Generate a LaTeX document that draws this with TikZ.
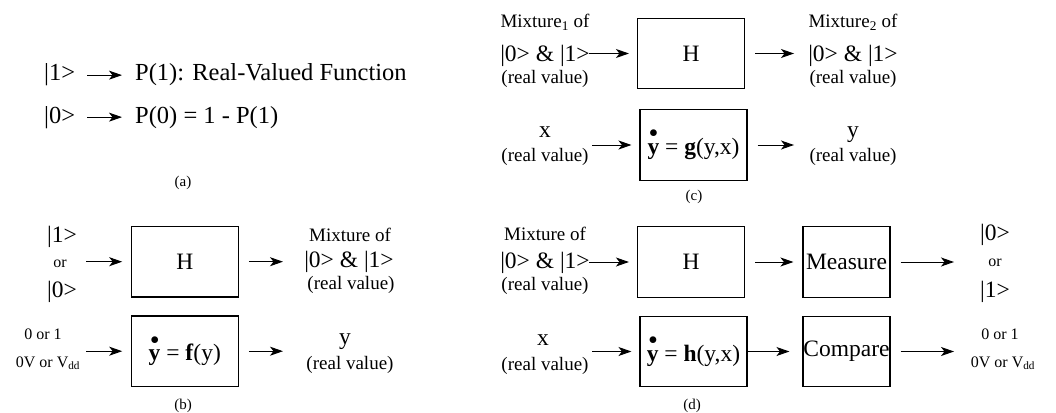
\documentclass[tikz,border=0pt]{standalone}
\usepackage{fontspec}
\setmainfont{Liberation Serif}
\usetikzlibrary{arrows.meta,positioning}
\newcommand{\fs}[1]{\fontsize{#1}{#1}\selectfont}
\newcommand{\dotbf}[1]{\leavevmode\rlap{\hspace{0.05em}\raisebox{0.5em}{\scalebox{1.2}{\textbullet}}}\textbf{#1}}

\begin{document}
\begin{tikzpicture}[
    x=1pt, y=-1pt,
    box/.style={draw, line width=1.1pt, minimum width=107pt, minimum height=70.5pt,
        inner sep=0pt, font=\fs{23.5}},
    big/.style={inner sep=0pt, font=\fs{23.5}},
    biga/.style={inner sep=0pt, font=\fs{24.5}},
    mid/.style={inner sep=0pt, font=\fs{19}},
    small/.style={inner sep=0pt, font=\fs{16}},
    sublabel/.style={inner sep=0pt, font=\fs{15}},
    arrow/.style={-{Stealth[length=13pt,width=9pt,inset=3.5pt]}, line width=1pt},
]
\useasboundingbox (0,0) rectangle (1056,412);

% ===== (a) =====
\node[biga, anchor=base west] (a1) at (44,81) {|1>};
\node[biga, anchor=base west] (p1) at (135,81) {P(1): Real-Valued Function};
\node[biga, anchor=base west] (a0) at (44,123) {|0>};
\node[biga, anchor=base west] (p0) at (135,123) {P(0) = 1 - P(1)};
\node[sublabel, anchor=base] (la) at (183,186) {(a)};

\draw[arrow, shorten <=12pt, shorten >=13pt] (a1.east) -- (a1.east -| p1.west);
\draw[arrow, shorten <=12pt, shorten >=13pt] (a0.east) -- (a0.east -| p0.west);

% ===== (b) =====
\node[box] (bH) at (184.75,261.7) {H};
\node[box] (bF) at (184.75,351.2) {\dotbf{y} = \textbf{f}(y)};

\node[big, anchor=base]   (b1)  at (62,242) {|1>};
\node[small, anchor=base] (bor) at (60,267) {or};
\node[big, anchor=base]   (b0)  at (62,297) {|0>};
\coordinate (bHin) at (86,261.7);
\draw[arrow, shorten >=8.5pt] (bHin) -- (bH);

\node[mid, anchor=base] (bm1) at (350,241) {Mixture of};
\node[big, anchor=base] (bm2) at (349,267) {|0> \& |1>};
\node[mid, anchor=base] (bm3) at (351,289) {(real value)};
\coordinate (bHout) at (283,261.7);
\draw[arrow, shorten <=10pt] (bH) -- (bHout);

\node[small, anchor=base] (b01) at (43,339) {0 or 1};
\node[small, anchor=base] (bv)  at (48,367) {0V or V\textsubscript{dd}};
\coordinate (bFin) at (86,351.2);
\draw[arrow, shorten >=8.5pt] (bFin) -- (bF);

\node[big, anchor=base] (by)  at (345,344) {y};
\node[mid, anchor=base] (byr) at (350,369) {(real value)};
\coordinate (bFout) at (283,351.2);
\draw[arrow, shorten <=10pt] (bF) -- (bFout);

\node[sublabel, anchor=base] (lb) at (183,409) {(b)};

% ===== (c) =====
\node[box] (cH) at (691,53.5) {H};
\node[box] (cG) at (693.5,145) {\dotbf{y} = \textbf{g}(y,x)};

\node[mid, anchor=base] (cm1) at (545,28) {Mixture\textsubscript{1} of};
\node[big, anchor=base] (cm2) at (545,62) {|0> \& |1>};
\node[mid, anchor=base] (cm3) at (545,83) {(real value)};
\coordinate (cHin) at (589,53.5);
\draw[arrow, shorten >=8pt] (cHin) -- (cH);

\node[mid, anchor=base] (cn1) at (853,28) {Mixture\textsubscript{2} of};
\node[big, anchor=base] (cn2) at (853,62) {|0> \& |1>};
\node[mid, anchor=base] (cn3) at (853,83) {(real value)};
\coordinate (cHout) at (794,53.5);
\draw[arrow, shorten <=10pt] (cH) -- (cHout);

\node[big, anchor=base] (cx)  at (545,137) {x};
\node[mid, anchor=base] (cxr) at (545,161) {(real value)};
\coordinate (cGin) at (592,145);
\draw[arrow, shorten >=8pt] (cGin) -- (cG);

\node[big, anchor=base] (cy)  at (853,137) {y};
\node[mid, anchor=base] (cyr) at (853,161) {(real value)};
\coordinate (cGout) at (794,145);
\draw[arrow, shorten <=10pt] (cG) -- (cGout);

\node[sublabel, anchor=base] (lc) at (694,200) {(c)};

% ===== (d) =====
\node[box] (dH) at (691,262) {H};
\node[box] (dh) at (693.5,351.5) {\dotbf{y} = \textbf{h}(y,x)};
\node[box, minimum width=87pt] (dM) at (846.5,262) {Measure};
\node[box, minimum width=87pt] (dC) at (846.5,351.5) {Compare};

\node[mid, anchor=base] (dm1) at (545,240) {Mixture of};
\node[big, anchor=base] (dm2) at (545,268) {|0> \& |1>};
\node[mid, anchor=base] (dm3) at (545,290) {(real value)};
\coordinate (dHin) at (589,262);
\draw[arrow, shorten >=8pt] (dHin) -- (dH);

\node[big, anchor=base] (dx)  at (543,345) {x};
\node[mid, anchor=base] (dxr) at (545,370) {(real value)};
\coordinate (dhin) at (592,351.5);
\draw[arrow, shorten >=8pt] (dhin) -- (dh);

\draw[arrow, shorten <=10pt, shorten >=9pt] (dH) -- (dM);
\draw[arrow, shorten >=13pt] (dh) -- (dC);

\node[big, anchor=base]   (d0)  at (995,240) {|0>};
\node[small, anchor=base] (dor) at (995,266) {or};
\node[big, anchor=base]   (d1)  at (995,297) {|1>};
\coordinate (dMout) at (954,262);
\draw[arrow, shorten <=10pt] (dM) -- (dMout);

\node[small, anchor=base] (d01) at (1000,339) {0 or 1};
\node[small, anchor=base] (dv)  at (1003,367) {0V or V\textsubscript{dd}};
\coordinate (dCout) at (954,351.5);
\draw[arrow, shorten <=10pt] (dC) -- (dCout);

\node[sublabel, anchor=base] (ld) at (692,409) {(d)};

\end{tikzpicture}
\end{document}
